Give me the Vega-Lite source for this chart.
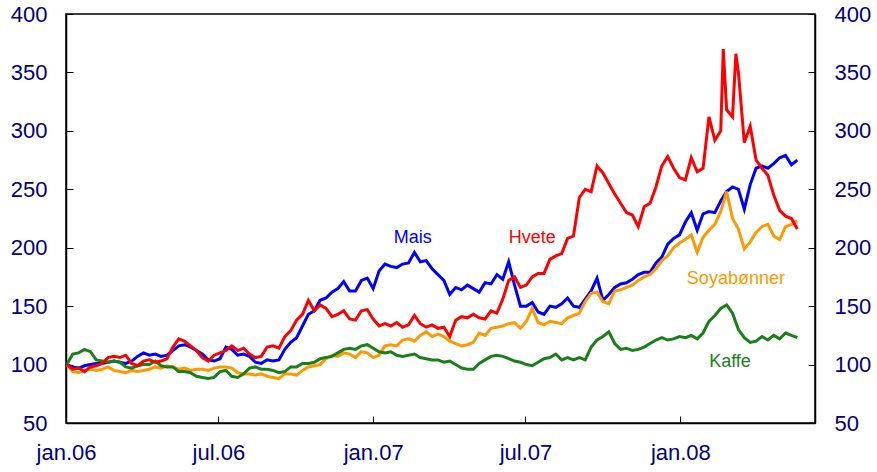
{
"$schema":"https://vega.github.io/schema/vega-lite/v6.json",
"width":749,"height":409,"autosize":"none",
"padding":{"left":66,"top":14,"right":62,"bottom":49},
"background":"white",
"config":{"view":{"stroke":"black","strokeWidth":1.5},
"axis":{"grid":false,"domainColor":"black","domainWidth":1.5,"tickColor":"black","tickSize":-7,"tickWidth":1,"labelFont":"Liberation Sans","labelFontSize":22,"labelColor":"#000080","labelPadding":26,"title":null}},
"datasets":{"lines":[
{"d":"2006-01-02","s":"Mais","v":100},{"d":"2006-01-09","s":"Mais","v":98},{"d":"2006-01-16","s":"Mais","v":97},{"d":"2006-01-23","s":"Mais","v":99},{"d":"2006-01-30","s":"Mais","v":100},{"d":"2006-02-06","s":"Mais","v":101},{"d":"2006-02-13","s":"Mais","v":101},{"d":"2006-02-20","s":"Mais","v":102},{"d":"2006-02-27","s":"Mais","v":103},{"d":"2006-03-06","s":"Mais","v":102},{"d":"2006-03-13","s":"Mais","v":101},{"d":"2006-03-20","s":"Mais","v":103},{"d":"2006-03-27","s":"Mais","v":107},{"d":"2006-04-03","s":"Mais","v":110},{"d":"2006-04-10","s":"Mais","v":108},{"d":"2006-04-17","s":"Mais","v":109},{"d":"2006-04-24","s":"Mais","v":107},{"d":"2006-05-01","s":"Mais","v":108},{"d":"2006-05-08","s":"Mais","v":112},{"d":"2006-05-15","s":"Mais","v":116},{"d":"2006-05-22","s":"Mais","v":117},{"d":"2006-05-29","s":"Mais","v":115},{"d":"2006-06-05","s":"Mais","v":112},{"d":"2006-06-12","s":"Mais","v":109},{"d":"2006-06-19","s":"Mais","v":104},{"d":"2006-06-26","s":"Mais","v":103},{"d":"2006-07-03","s":"Mais","v":105},{"d":"2006-07-10","s":"Mais","v":115},{"d":"2006-07-17","s":"Mais","v":113},{"d":"2006-07-24","s":"Mais","v":108},{"d":"2006-07-31","s":"Mais","v":109},{"d":"2006-08-07","s":"Mais","v":107},{"d":"2006-08-14","s":"Mais","v":102},{"d":"2006-08-21","s":"Mais","v":101},{"d":"2006-08-28","s":"Mais","v":104},{"d":"2006-09-04","s":"Mais","v":103},{"d":"2006-09-11","s":"Mais","v":104},{"d":"2006-09-18","s":"Mais","v":113},{"d":"2006-09-25","s":"Mais","v":119},{"d":"2006-10-02","s":"Mais","v":123},{"d":"2006-10-09","s":"Mais","v":133},{"d":"2006-10-16","s":"Mais","v":143},{"d":"2006-10-23","s":"Mais","v":146},{"d":"2006-10-30","s":"Mais","v":155},{"d":"2006-11-06","s":"Mais","v":157},{"d":"2006-11-13","s":"Mais","v":162},{"d":"2006-11-20","s":"Mais","v":165},{"d":"2006-11-27","s":"Mais","v":171},{"d":"2006-12-04","s":"Mais","v":163},{"d":"2006-12-11","s":"Mais","v":163},{"d":"2006-12-18","s":"Mais","v":172},{"d":"2006-12-25","s":"Mais","v":174},{"d":"2007-01-01","s":"Mais","v":165},{"d":"2007-01-08","s":"Mais","v":180},{"d":"2007-01-15","s":"Mais","v":186},{"d":"2007-01-22","s":"Mais","v":184},{"d":"2007-01-29","s":"Mais","v":183},{"d":"2007-02-05","s":"Mais","v":186},{"d":"2007-02-12","s":"Mais","v":187},{"d":"2007-02-19","s":"Mais","v":196},{"d":"2007-02-26","s":"Mais","v":188},{"d":"2007-03-05","s":"Mais","v":189},{"d":"2007-03-12","s":"Mais","v":182},{"d":"2007-03-19","s":"Mais","v":177},{"d":"2007-03-26","s":"Mais","v":172},{"d":"2007-04-02","s":"Mais","v":160},{"d":"2007-04-09","s":"Mais","v":166},{"d":"2007-04-16","s":"Mais","v":164},{"d":"2007-04-23","s":"Mais","v":168},{"d":"2007-04-30","s":"Mais","v":165},{"d":"2007-05-07","s":"Mais","v":162},{"d":"2007-05-14","s":"Mais","v":170},{"d":"2007-05-21","s":"Mais","v":169},{"d":"2007-05-28","s":"Mais","v":177},{"d":"2007-06-04","s":"Mais","v":173},{"d":"2007-06-11","s":"Mais","v":188},{"d":"2007-06-18","s":"Mais","v":168},{"d":"2007-06-25","s":"Mais","v":150},{"d":"2007-07-02","s":"Mais","v":150},{"d":"2007-07-09","s":"Mais","v":153},{"d":"2007-07-16","s":"Mais","v":145},{"d":"2007-07-23","s":"Mais","v":143},{"d":"2007-07-30","s":"Mais","v":150},{"d":"2007-08-06","s":"Mais","v":149},{"d":"2007-08-13","s":"Mais","v":152},{"d":"2007-08-20","s":"Mais","v":157},{"d":"2007-08-27","s":"Mais","v":150},{"d":"2007-09-03","s":"Mais","v":149},{"d":"2007-09-10","s":"Mais","v":156},{"d":"2007-09-17","s":"Mais","v":163},{"d":"2007-09-24","s":"Mais","v":174},{"d":"2007-10-01","s":"Mais","v":155},{"d":"2007-10-08","s":"Mais","v":160},{"d":"2007-10-15","s":"Mais","v":166},{"d":"2007-10-22","s":"Mais","v":169},{"d":"2007-10-29","s":"Mais","v":170},{"d":"2007-11-05","s":"Mais","v":173},{"d":"2007-11-12","s":"Mais","v":177},{"d":"2007-11-19","s":"Mais","v":179},{"d":"2007-11-26","s":"Mais","v":179},{"d":"2007-12-03","s":"Mais","v":187},{"d":"2007-12-10","s":"Mais","v":192},{"d":"2007-12-17","s":"Mais","v":203},{"d":"2007-12-24","s":"Mais","v":208},{"d":"2007-12-31","s":"Mais","v":211},{"d":"2008-01-07","s":"Mais","v":222},{"d":"2008-01-14","s":"Mais","v":230},{"d":"2008-01-21","s":"Mais","v":215},{"d":"2008-01-28","s":"Mais","v":229},{"d":"2008-02-04","s":"Mais","v":231},{"d":"2008-02-11","s":"Mais","v":230},{"d":"2008-02-18","s":"Mais","v":240},{"d":"2008-02-25","s":"Mais","v":248},{"d":"2008-03-03","s":"Mais","v":252},{"d":"2008-03-10","s":"Mais","v":250},{"d":"2008-03-17","s":"Mais","v":233},{"d":"2008-03-24","s":"Mais","v":254},{"d":"2008-03-31","s":"Mais","v":268},{"d":"2008-04-07","s":"Mais","v":270},{"d":"2008-04-14","s":"Mais","v":268},{"d":"2008-04-21","s":"Mais","v":272},{"d":"2008-04-28","s":"Mais","v":277},{"d":"2008-05-05","s":"Mais","v":279},{"d":"2008-05-12","s":"Mais","v":271},{"d":"2008-05-19","s":"Mais","v":275},
{"d":"2006-01-02","s":"Soyabønner","v":100},{"d":"2006-01-09","s":"Soyabønner","v":94},{"d":"2006-01-16","s":"Soyabønner","v":93},{"d":"2006-01-23","s":"Soyabønner","v":95},{"d":"2006-01-30","s":"Soyabønner","v":96},{"d":"2006-02-06","s":"Soyabønner","v":95},{"d":"2006-02-13","s":"Soyabønner","v":96},{"d":"2006-02-20","s":"Soyabønner","v":98},{"d":"2006-02-27","s":"Soyabønner","v":95},{"d":"2006-03-06","s":"Soyabønner","v":94},{"d":"2006-03-13","s":"Soyabønner","v":93},{"d":"2006-03-20","s":"Soyabønner","v":95},{"d":"2006-03-27","s":"Soyabønner","v":94},{"d":"2006-04-03","s":"Soyabønner","v":95},{"d":"2006-04-10","s":"Soyabønner","v":96},{"d":"2006-04-17","s":"Soyabønner","v":98},{"d":"2006-04-24","s":"Soyabønner","v":97},{"d":"2006-05-01","s":"Soyabønner","v":99},{"d":"2006-05-08","s":"Soyabønner","v":98},{"d":"2006-05-15","s":"Soyabønner","v":96},{"d":"2006-05-22","s":"Soyabønner","v":97},{"d":"2006-05-29","s":"Soyabønner","v":95},{"d":"2006-06-05","s":"Soyabønner","v":96},{"d":"2006-06-12","s":"Soyabønner","v":96},{"d":"2006-06-19","s":"Soyabønner","v":95},{"d":"2006-06-26","s":"Soyabønner","v":97},{"d":"2006-07-03","s":"Soyabønner","v":98},{"d":"2006-07-10","s":"Soyabønner","v":98},{"d":"2006-07-17","s":"Soyabønner","v":97},{"d":"2006-07-24","s":"Soyabønner","v":93},{"d":"2006-07-31","s":"Soyabønner","v":92},{"d":"2006-08-07","s":"Soyabønner","v":92},{"d":"2006-08-14","s":"Soyabønner","v":91},{"d":"2006-08-21","s":"Soyabønner","v":92},{"d":"2006-08-28","s":"Soyabønner","v":90},{"d":"2006-09-04","s":"Soyabønner","v":89},{"d":"2006-09-11","s":"Soyabønner","v":88},{"d":"2006-09-18","s":"Soyabønner","v":92},{"d":"2006-09-25","s":"Soyabønner","v":92},{"d":"2006-10-02","s":"Soyabønner","v":91},{"d":"2006-10-09","s":"Soyabønner","v":95},{"d":"2006-10-16","s":"Soyabønner","v":98},{"d":"2006-10-23","s":"Soyabønner","v":99},{"d":"2006-10-30","s":"Soyabønner","v":100},{"d":"2006-11-06","s":"Soyabønner","v":105},{"d":"2006-11-13","s":"Soyabønner","v":108},{"d":"2006-11-20","s":"Soyabønner","v":107},{"d":"2006-11-27","s":"Soyabønner","v":110},{"d":"2006-12-04","s":"Soyabønner","v":109},{"d":"2006-12-11","s":"Soyabønner","v":106},{"d":"2006-12-18","s":"Soyabønner","v":111},{"d":"2006-12-25","s":"Soyabønner","v":110},{"d":"2007-01-01","s":"Soyabønner","v":106},{"d":"2007-01-08","s":"Soyabønner","v":108},{"d":"2007-01-15","s":"Soyabønner","v":116},{"d":"2007-01-22","s":"Soyabønner","v":117},{"d":"2007-01-29","s":"Soyabønner","v":116},{"d":"2007-02-05","s":"Soyabønner","v":121},{"d":"2007-02-12","s":"Soyabønner","v":122},{"d":"2007-02-19","s":"Soyabønner","v":120},{"d":"2007-02-26","s":"Soyabønner","v":125},{"d":"2007-03-05","s":"Soyabønner","v":128},{"d":"2007-03-12","s":"Soyabønner","v":124},{"d":"2007-03-19","s":"Soyabønner","v":126},{"d":"2007-03-26","s":"Soyabønner","v":124},{"d":"2007-04-02","s":"Soyabønner","v":120},{"d":"2007-04-09","s":"Soyabønner","v":118},{"d":"2007-04-16","s":"Soyabønner","v":116},{"d":"2007-04-23","s":"Soyabønner","v":117},{"d":"2007-04-30","s":"Soyabønner","v":119},{"d":"2007-05-07","s":"Soyabønner","v":127},{"d":"2007-05-14","s":"Soyabønner","v":125},{"d":"2007-05-21","s":"Soyabønner","v":131},{"d":"2007-05-28","s":"Soyabønner","v":132},{"d":"2007-06-04","s":"Soyabønner","v":133},{"d":"2007-06-11","s":"Soyabønner","v":135},{"d":"2007-06-18","s":"Soyabønner","v":136},{"d":"2007-06-25","s":"Soyabønner","v":131},{"d":"2007-07-02","s":"Soyabønner","v":137},{"d":"2007-07-09","s":"Soyabønner","v":148},{"d":"2007-07-16","s":"Soyabønner","v":136},{"d":"2007-07-23","s":"Soyabønner","v":134},{"d":"2007-07-30","s":"Soyabønner","v":137},{"d":"2007-08-06","s":"Soyabønner","v":136},{"d":"2007-08-13","s":"Soyabønner","v":135},{"d":"2007-08-20","s":"Soyabønner","v":140},{"d":"2007-08-27","s":"Soyabønner","v":142},{"d":"2007-09-03","s":"Soyabønner","v":144},{"d":"2007-09-10","s":"Soyabønner","v":154},{"d":"2007-09-17","s":"Soyabønner","v":161},{"d":"2007-09-24","s":"Soyabønner","v":162},{"d":"2007-10-01","s":"Soyabønner","v":154},{"d":"2007-10-08","s":"Soyabønner","v":152},{"d":"2007-10-15","s":"Soyabønner","v":163},{"d":"2007-10-22","s":"Soyabønner","v":164},{"d":"2007-10-29","s":"Soyabønner","v":166},{"d":"2007-11-05","s":"Soyabønner","v":168},{"d":"2007-11-12","s":"Soyabønner","v":172},{"d":"2007-11-19","s":"Soyabønner","v":175},{"d":"2007-11-26","s":"Soyabønner","v":177},{"d":"2007-12-03","s":"Soyabønner","v":182},{"d":"2007-12-10","s":"Soyabønner","v":189},{"d":"2007-12-17","s":"Soyabønner","v":193},{"d":"2007-12-24","s":"Soyabønner","v":200},{"d":"2007-12-31","s":"Soyabønner","v":204},{"d":"2008-01-07","s":"Soyabønner","v":207},{"d":"2008-01-14","s":"Soyabønner","v":211},{"d":"2008-01-21","s":"Soyabønner","v":196},{"d":"2008-01-28","s":"Soyabønner","v":209},{"d":"2008-02-04","s":"Soyabønner","v":215},{"d":"2008-02-11","s":"Soyabønner","v":220},{"d":"2008-02-18","s":"Soyabønner","v":231},{"d":"2008-02-25","s":"Soyabønner","v":248},{"d":"2008-03-03","s":"Soyabønner","v":225},{"d":"2008-03-10","s":"Soyabønner","v":216},{"d":"2008-03-17","s":"Soyabønner","v":199},{"d":"2008-03-24","s":"Soyabønner","v":205},{"d":"2008-03-31","s":"Soyabønner","v":213},{"d":"2008-04-07","s":"Soyabønner","v":218},{"d":"2008-04-14","s":"Soyabønner","v":220},{"d":"2008-04-21","s":"Soyabønner","v":210},{"d":"2008-04-28","s":"Soyabønner","v":207},{"d":"2008-05-05","s":"Soyabønner","v":218},{"d":"2008-05-12","s":"Soyabønner","v":220},{"d":"2008-05-19","s":"Soyabønner","v":223},
{"d":"2006-01-02","s":"Kaffe","v":100},{"d":"2006-01-09","s":"Kaffe","v":109},{"d":"2006-01-16","s":"Kaffe","v":110},{"d":"2006-01-23","s":"Kaffe","v":113},{"d":"2006-01-30","s":"Kaffe","v":111},{"d":"2006-02-06","s":"Kaffe","v":104},{"d":"2006-02-13","s":"Kaffe","v":103},{"d":"2006-02-20","s":"Kaffe","v":102},{"d":"2006-02-27","s":"Kaffe","v":103},{"d":"2006-03-06","s":"Kaffe","v":102},{"d":"2006-03-13","s":"Kaffe","v":98},{"d":"2006-03-20","s":"Kaffe","v":97},{"d":"2006-03-27","s":"Kaffe","v":99},{"d":"2006-04-03","s":"Kaffe","v":100},{"d":"2006-04-10","s":"Kaffe","v":100},{"d":"2006-04-17","s":"Kaffe","v":103},{"d":"2006-04-24","s":"Kaffe","v":99},{"d":"2006-05-01","s":"Kaffe","v":98},{"d":"2006-05-08","s":"Kaffe","v":98},{"d":"2006-05-15","s":"Kaffe","v":94},{"d":"2006-05-22","s":"Kaffe","v":94},{"d":"2006-05-29","s":"Kaffe","v":93},{"d":"2006-06-05","s":"Kaffe","v":90},{"d":"2006-06-12","s":"Kaffe","v":89},{"d":"2006-06-19","s":"Kaffe","v":88},{"d":"2006-06-26","s":"Kaffe","v":89},{"d":"2006-07-03","s":"Kaffe","v":94},{"d":"2006-07-10","s":"Kaffe","v":95},{"d":"2006-07-17","s":"Kaffe","v":90},{"d":"2006-07-24","s":"Kaffe","v":89},{"d":"2006-07-31","s":"Kaffe","v":92},{"d":"2006-08-07","s":"Kaffe","v":97},{"d":"2006-08-14","s":"Kaffe","v":98},{"d":"2006-08-21","s":"Kaffe","v":96},{"d":"2006-08-28","s":"Kaffe","v":96},{"d":"2006-09-04","s":"Kaffe","v":95},{"d":"2006-09-11","s":"Kaffe","v":93},{"d":"2006-09-18","s":"Kaffe","v":94},{"d":"2006-09-25","s":"Kaffe","v":98},{"d":"2006-10-02","s":"Kaffe","v":98},{"d":"2006-10-09","s":"Kaffe","v":101},{"d":"2006-10-16","s":"Kaffe","v":101},{"d":"2006-10-23","s":"Kaffe","v":102},{"d":"2006-10-30","s":"Kaffe","v":105},{"d":"2006-11-06","s":"Kaffe","v":106},{"d":"2006-11-13","s":"Kaffe","v":107},{"d":"2006-11-20","s":"Kaffe","v":110},{"d":"2006-11-27","s":"Kaffe","v":113},{"d":"2006-12-04","s":"Kaffe","v":114},{"d":"2006-12-11","s":"Kaffe","v":113},{"d":"2006-12-18","s":"Kaffe","v":116},{"d":"2006-12-25","s":"Kaffe","v":117},{"d":"2007-01-01","s":"Kaffe","v":114},{"d":"2007-01-08","s":"Kaffe","v":111},{"d":"2007-01-15","s":"Kaffe","v":110},{"d":"2007-01-22","s":"Kaffe","v":111},{"d":"2007-01-29","s":"Kaffe","v":108},{"d":"2007-02-05","s":"Kaffe","v":107},{"d":"2007-02-12","s":"Kaffe","v":108},{"d":"2007-02-19","s":"Kaffe","v":109},{"d":"2007-02-26","s":"Kaffe","v":106},{"d":"2007-03-05","s":"Kaffe","v":105},{"d":"2007-03-12","s":"Kaffe","v":104},{"d":"2007-03-19","s":"Kaffe","v":104},{"d":"2007-03-26","s":"Kaffe","v":102},{"d":"2007-04-02","s":"Kaffe","v":103},{"d":"2007-04-09","s":"Kaffe","v":100},{"d":"2007-04-16","s":"Kaffe","v":97},{"d":"2007-04-23","s":"Kaffe","v":96},{"d":"2007-04-30","s":"Kaffe","v":96},{"d":"2007-05-07","s":"Kaffe","v":101},{"d":"2007-05-14","s":"Kaffe","v":104},{"d":"2007-05-21","s":"Kaffe","v":107},{"d":"2007-05-28","s":"Kaffe","v":108},{"d":"2007-06-04","s":"Kaffe","v":107},{"d":"2007-06-11","s":"Kaffe","v":105},{"d":"2007-06-18","s":"Kaffe","v":103},{"d":"2007-06-25","s":"Kaffe","v":102},{"d":"2007-07-02","s":"Kaffe","v":100},{"d":"2007-07-09","s":"Kaffe","v":99},{"d":"2007-07-16","s":"Kaffe","v":102},{"d":"2007-07-23","s":"Kaffe","v":105},{"d":"2007-07-30","s":"Kaffe","v":106},{"d":"2007-08-06","s":"Kaffe","v":109},{"d":"2007-08-13","s":"Kaffe","v":104},{"d":"2007-08-20","s":"Kaffe","v":106},{"d":"2007-08-27","s":"Kaffe","v":104},{"d":"2007-09-03","s":"Kaffe","v":106},{"d":"2007-09-10","s":"Kaffe","v":104},{"d":"2007-09-17","s":"Kaffe","v":115},{"d":"2007-09-24","s":"Kaffe","v":121},{"d":"2007-10-01","s":"Kaffe","v":124},{"d":"2007-10-08","s":"Kaffe","v":128},{"d":"2007-10-15","s":"Kaffe","v":118},{"d":"2007-10-22","s":"Kaffe","v":113},{"d":"2007-10-29","s":"Kaffe","v":114},{"d":"2007-11-05","s":"Kaffe","v":112},{"d":"2007-11-12","s":"Kaffe","v":113},{"d":"2007-11-19","s":"Kaffe","v":115},{"d":"2007-11-26","s":"Kaffe","v":118},{"d":"2007-12-03","s":"Kaffe","v":121},{"d":"2007-12-10","s":"Kaffe","v":123},{"d":"2007-12-17","s":"Kaffe","v":121},{"d":"2007-12-24","s":"Kaffe","v":122},{"d":"2007-12-31","s":"Kaffe","v":124},{"d":"2008-01-07","s":"Kaffe","v":123},{"d":"2008-01-14","s":"Kaffe","v":125},{"d":"2008-01-21","s":"Kaffe","v":122},{"d":"2008-01-28","s":"Kaffe","v":127},{"d":"2008-02-04","s":"Kaffe","v":137},{"d":"2008-02-11","s":"Kaffe","v":142},{"d":"2008-02-18","s":"Kaffe","v":148},{"d":"2008-02-25","s":"Kaffe","v":151},{"d":"2008-03-03","s":"Kaffe","v":144},{"d":"2008-03-10","s":"Kaffe","v":130},{"d":"2008-03-17","s":"Kaffe","v":123},{"d":"2008-03-24","s":"Kaffe","v":119},{"d":"2008-03-31","s":"Kaffe","v":120},{"d":"2008-04-07","s":"Kaffe","v":124},{"d":"2008-04-14","s":"Kaffe","v":121},{"d":"2008-04-21","s":"Kaffe","v":125},{"d":"2008-04-28","s":"Kaffe","v":122},{"d":"2008-05-05","s":"Kaffe","v":127},{"d":"2008-05-12","s":"Kaffe","v":125},{"d":"2008-05-19","s":"Kaffe","v":123},
{"d":"2006-01-02","s":"Hvete","v":100},{"d":"2006-01-09","s":"Hvete","v":96},{"d":"2006-01-16","s":"Hvete","v":97},{"d":"2006-01-23","s":"Hvete","v":94},{"d":"2006-01-30","s":"Hvete","v":98},{"d":"2006-02-06","s":"Hvete","v":99},{"d":"2006-02-13","s":"Hvete","v":101},{"d":"2006-02-20","s":"Hvete","v":106},{"d":"2006-02-27","s":"Hvete","v":107},{"d":"2006-03-06","s":"Hvete","v":106},{"d":"2006-03-13","s":"Hvete","v":108},{"d":"2006-03-20","s":"Hvete","v":101},{"d":"2006-03-27","s":"Hvete","v":99},{"d":"2006-04-03","s":"Hvete","v":103},{"d":"2006-04-10","s":"Hvete","v":104},{"d":"2006-04-17","s":"Hvete","v":102},{"d":"2006-04-24","s":"Hvete","v":103},{"d":"2006-05-01","s":"Hvete","v":105},{"d":"2006-05-08","s":"Hvete","v":115},{"d":"2006-05-15","s":"Hvete","v":122},{"d":"2006-05-22","s":"Hvete","v":120},{"d":"2006-05-29","s":"Hvete","v":116},{"d":"2006-06-05","s":"Hvete","v":112},{"d":"2006-06-12","s":"Hvete","v":106},{"d":"2006-06-19","s":"Hvete","v":103},{"d":"2006-06-26","s":"Hvete","v":108},{"d":"2006-07-03","s":"Hvete","v":110},{"d":"2006-07-10","s":"Hvete","v":112},{"d":"2006-07-17","s":"Hvete","v":116},{"d":"2006-07-24","s":"Hvete","v":112},{"d":"2006-07-31","s":"Hvete","v":114},{"d":"2006-08-07","s":"Hvete","v":109},{"d":"2006-08-14","s":"Hvete","v":106},{"d":"2006-08-21","s":"Hvete","v":107},{"d":"2006-08-28","s":"Hvete","v":115},{"d":"2006-09-04","s":"Hvete","v":116},{"d":"2006-09-11","s":"Hvete","v":114},{"d":"2006-09-18","s":"Hvete","v":124},{"d":"2006-09-25","s":"Hvete","v":129},{"d":"2006-10-02","s":"Hvete","v":138},{"d":"2006-10-09","s":"Hvete","v":143},{"d":"2006-10-16","s":"Hvete","v":155},{"d":"2006-10-23","s":"Hvete","v":146},{"d":"2006-10-30","s":"Hvete","v":151},{"d":"2006-11-06","s":"Hvete","v":148},{"d":"2006-11-13","s":"Hvete","v":141},{"d":"2006-11-20","s":"Hvete","v":143},{"d":"2006-11-27","s":"Hvete","v":146},{"d":"2006-12-04","s":"Hvete","v":139},{"d":"2006-12-11","s":"Hvete","v":138},{"d":"2006-12-18","s":"Hvete","v":146},{"d":"2006-12-25","s":"Hvete","v":147},{"d":"2007-01-01","s":"Hvete","v":139},{"d":"2007-01-08","s":"Hvete","v":133},{"d":"2007-01-15","s":"Hvete","v":135},{"d":"2007-01-22","s":"Hvete","v":133},{"d":"2007-01-29","s":"Hvete","v":136},{"d":"2007-02-05","s":"Hvete","v":132},{"d":"2007-02-12","s":"Hvete","v":134},{"d":"2007-02-19","s":"Hvete","v":142},{"d":"2007-02-26","s":"Hvete","v":135},{"d":"2007-03-05","s":"Hvete","v":132},{"d":"2007-03-12","s":"Hvete","v":134},{"d":"2007-03-19","s":"Hvete","v":131},{"d":"2007-03-26","s":"Hvete","v":132},{"d":"2007-04-02","s":"Hvete","v":124},{"d":"2007-04-09","s":"Hvete","v":138},{"d":"2007-04-16","s":"Hvete","v":141},{"d":"2007-04-23","s":"Hvete","v":140},{"d":"2007-04-30","s":"Hvete","v":143},{"d":"2007-05-07","s":"Hvete","v":140},{"d":"2007-05-14","s":"Hvete","v":139},{"d":"2007-05-21","s":"Hvete","v":146},{"d":"2007-05-28","s":"Hvete","v":144},{"d":"2007-06-04","s":"Hvete","v":156},{"d":"2007-06-11","s":"Hvete","v":172},{"d":"2007-06-18","s":"Hvete","v":175},{"d":"2007-06-25","s":"Hvete","v":166},{"d":"2007-07-02","s":"Hvete","v":168},{"d":"2007-07-09","s":"Hvete","v":175},{"d":"2007-07-16","s":"Hvete","v":178},{"d":"2007-07-23","s":"Hvete","v":178},{"d":"2007-07-30","s":"Hvete","v":190},{"d":"2007-08-06","s":"Hvete","v":193},{"d":"2007-08-13","s":"Hvete","v":195},{"d":"2007-08-20","s":"Hvete","v":208},{"d":"2007-08-27","s":"Hvete","v":210},{"d":"2007-09-03","s":"Hvete","v":243},{"d":"2007-09-10","s":"Hvete","v":250},{"d":"2007-09-17","s":"Hvete","v":248},{"d":"2007-09-24","s":"Hvete","v":270},{"d":"2007-10-01","s":"Hvete","v":264},{"d":"2007-10-08","s":"Hvete","v":255},{"d":"2007-10-15","s":"Hvete","v":246},{"d":"2007-10-22","s":"Hvete","v":238},{"d":"2007-10-29","s":"Hvete","v":230},{"d":"2007-11-05","s":"Hvete","v":228},{"d":"2007-11-12","s":"Hvete","v":218},{"d":"2007-11-19","s":"Hvete","v":235},{"d":"2007-11-26","s":"Hvete","v":238},{"d":"2007-12-03","s":"Hvete","v":252},{"d":"2007-12-10","s":"Hvete","v":270},{"d":"2007-12-17","s":"Hvete","v":278},{"d":"2007-12-24","s":"Hvete","v":268},{"d":"2007-12-31","s":"Hvete","v":260},{"d":"2008-01-07","s":"Hvete","v":258},{"d":"2008-01-14","s":"Hvete","v":277},{"d":"2008-01-21","s":"Hvete","v":265},{"d":"2008-01-28","s":"Hvete","v":268},{"d":"2008-02-04","s":"Hvete","v":312},{"d":"2008-02-11","s":"Hvete","v":292},{"d":"2008-02-18","s":"Hvete","v":300},{"d":"2008-02-21","s":"Hvete","v":370},{"d":"2008-02-25","s":"Hvete","v":318},{"d":"2008-03-03","s":"Hvete","v":312},{"d":"2008-03-07","s":"Hvete","v":366},{"d":"2008-03-10","s":"Hvete","v":350},{"d":"2008-03-17","s":"Hvete","v":290},{"d":"2008-03-24","s":"Hvete","v":304},{"d":"2008-03-31","s":"Hvete","v":275},{"d":"2008-04-07","s":"Hvete","v":268},{"d":"2008-04-14","s":"Hvete","v":262},{"d":"2008-04-21","s":"Hvete","v":245},{"d":"2008-04-28","s":"Hvete","v":232},{"d":"2008-05-05","s":"Hvete","v":227},{"d":"2008-05-12","s":"Hvete","v":225},{"d":"2008-05-19","s":"Hvete","v":216}
],
"labels":[
{"d":"2007-02-17","s":"Mais","v":204},
{"d":"2007-07-09","s":"Hvete","v":204},
{"d":"2008-03-07","s":"Soyabønner","v":169},
{"d":"2008-02-29","s":"Kaffe","v":98}
]},
"layer":[
{"data":{"name":"lines"},
"mark":{"type":"line","strokeWidth":3,"interpolate":"linear"},
"encoding":{
"x":{"field":"d","type":"temporal","scale":{"type":"utc","domain":[{"year":2006,"month":1,"date":1,"utc":true},{"year":2008,"month":6,"date":9,"utc":true}],"nice":false},
"axis":{"orient":"bottom","values":[{"year":2006,"month":1,"date":1,"utc":true},{"year":2006,"month":7,"date":1,"utc":true},{"year":2007,"month":1,"date":1,"utc":true},{"year":2007,"month":7,"date":1,"utc":true},{"year":2008,"month":1,"date":1,"utc":true}],"labelExpr":"lower(utcFormat(datum.value, '%b.%y'))","labelFlush":false}},
"y":{"field":"v","type":"quantitative","scale":{"domain":[50,400],"nice":false,"zero":false},"axis":{"orient":"left","values":[50,100,150,200,250,300,350,400]}},
"color":{"field":"s","type":"nominal","scale":{"domain":["Mais","Hvete","Soyabønner","Kaffe"],"range":["#0000ff","#ff0000","#ff9900","#1a7f1a"]},"legend":null},
"detail":{"field":"s"}
}},
{"data":{"name":"labels"},
"mark":{"type":"text","font":"Liberation Sans","fontSize":18,"align":"center","baseline":"alphabetic"},
"encoding":{
"x":{"field":"d","type":"temporal"},
"y":{"field":"v","type":"quantitative","axis":{"orient":"right","values":[50,100,150,200,250,300,350,400]}},
"text":{"field":"s"},
"color":{"field":"s","type":"nominal","legend":null}
}}
],
"resolve":{"axis":{"y":"independent"}}
}
